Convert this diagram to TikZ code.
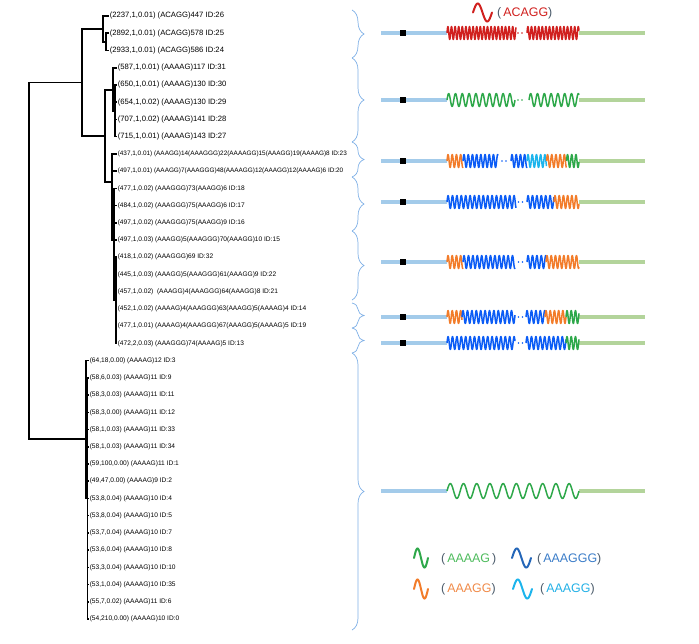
\documentclass[tikz,border=0pt]{standalone}
\usepackage{fontspec}
\setmainfont{Liberation Sans}
\usetikzlibrary{decorations.pathreplacing}
\definecolor{bracecol}{HTML}{7FB0E6}
\definecolor{barblue}{HTML}{A3CBEA}
\definecolor{bargreen}{HTML}{B3D49B}
\definecolor{wred}{HTML}{D0201E}
\definecolor{wgreen}{HTML}{2EA84A}
\definecolor{wblue}{HTML}{0B5CF5}
\definecolor{lblue}{HTML}{2466B8}
\definecolor{worange}{HTML}{F27C2A}
\definecolor{wcyan}{HTML}{1CB4EC}
\definecolor{paren}{HTML}{4A5A6A}
\definecolor{tgreen}{HTML}{4DBB5C}
\definecolor{tblue}{HTML}{3A7CC8}
\definecolor{torange}{HTML}{F08A48}
\definecolor{tcyan}{HTML}{22B0E6}
\newcommand{\mywave}[6]{%
  \pgfmathsetmacro{\mywn}{(#3-#2)/#5}%
  \pgfmathtruncatemacro{\mysm}{\mywn*14+2}%
  \draw[#1,wavestyle] plot[domain=0:\mywn,samples=\mysm] ({#2+\x*#5},{#4-#6*sin(\x*360)});%
}
\newcommand{\mydots}[3]{%
  \fill[#1] (#2,#3) circle (0.9pt);
  \fill[#1] (#2+4,#3) circle (0.9pt);
}
\begin{document}
\begin{tikzpicture}[x=1pt,y=-1pt,
  lab/.style={anchor=west,inner sep=0.6pt,font=\fontsize{6.6}{7}\selectfont},
  biglab/.style={lab,font=\fontsize{7.7}{8}\selectfont},
  longlab/.style={lab,font=\fontsize{6.4}{7}\selectfont},
  tree/.style={line width=1.6pt},
  bracestyle/.style={bracecol,line width=0.7pt,decorate,decoration={brace,amplitude=12pt}},
  barb/.style={barblue,line width=4.5pt},
  barg/.style={bargreen,line width=4.5pt},
  wavestyle/.style={line width=1.5pt,line join=round},
  lwave/.style={line width=2pt,line cap=round},
  sq/.style={fill=black,minimum size=6pt,inner sep=0pt},
  legtext/.style={anchor=west,inner sep=0pt,font=\fontsize{12.4}{14}\selectfont}]
\useasboundingbox (0,0) rectangle (699,643);

% ---- leaf labels ----
\node[biglab] (L26) at (109,16.0) {(2237,1,0.01) (ACAGG)447 ID:26};
\node[biglab] (L25) at (109,33.2) {(2892,1,0.01) (ACAGG)578 ID:25};
\node[biglab] (L24) at (109,50.5) {(2933,1,0.01) (ACAGG)586 ID:24};
\node[biglab] (L31) at (117,67.7) {(587,1,0.01) (AAAAG)117 ID:31};
\node[biglab] (L30) at (117,84.9) {(650,1,0.01) (AAAAG)130 ID:30};
\node[biglab] (L29) at (117,102.2) {(654,1,0.02) (AAAAG)130 ID:29};
\node[biglab] (L28) at (117,119.4) {(707,1,0.02) (AAAAG)141 ID:28};
\node[biglab] (L27) at (117,136.6) {(715,1,0.01) (AAAAG)143 ID:27};
\node[longlab] (L23) at (117,153.8) {(437,1,0.01) (AAAGG)14(AAAGGG)22(AAAAGG)15(AAAGG)19(AAAAG)8 ID:23};
\node[longlab] (L20) at (117,171.1) {(497,1,0.01) (AAAGG)7(AAAGGG)48(AAAAGG)12(AAAGG)12(AAAAG)6 ID:20};
\node[lab] (L18) at (117,188.3) {(477,1,0.02) (AAAGGG)73(AAAGG)6 ID:18};
\node[lab] (L17) at (117,205.5) {(484,1,0.02) (AAAGGG)75(AAAGG)6 ID:17};
\node[lab] (L16) at (117,222.8) {(497,1,0.02) (AAAGGG)75(AAAGG)9 ID:16};
\node[lab] (L15) at (117,240.0) {(497,1,0.03) (AAAGG)5(AAAGGG)70(AAAGG)10 ID:15};
\node[lab] (L32) at (117,257.2) {(418,1,0.02) (AAAGGG)69 ID:32};
\node[lab] (L22) at (117,274.4) {(445,1,0.03) (AAAGG)5(AAAGGG)61(AAAGG)9 ID:22};
\node[lab] (L21) at (117,291.7) {(457,1,0.02)\ \ (AAAGG)4(AAAGGG)64(AAAGG)8 ID:21};
\node[lab] (L14) at (117,308.9) {(452,1,0.02) (AAAAG)4(AAAGGG)63(AAAGG)5(AAAAG)4 ID:14};
\node[lab] (L19) at (117,326.1) {(477,1,0.01) (AAAAG)4(AAAGGG)67(AAAGG)5(AAAAG)5 ID:19};
\node[lab] (L13) at (117,343.4) {(472,2,0.03) (AAAGGG)74(AAAAG)5 ID:13};
\node[lab] (L3) at (89,360.6) {(64,18,0.00) (AAAAG)12 ID:3};
\node[lab] (L9) at (89,377.8) {(58,6,0.03) (AAAAG)11 ID:9};
\node[lab] (L11) at (89,395.0) {(58,3,0.03) (AAAAG)11 ID:11};
\node[lab] (L12) at (89,412.3) {(58,3,0.00) (AAAAG)11 ID:12};
\node[lab] (L33) at (89,429.5) {(58,1,0.03) (AAAAG)11 ID:33};
\node[lab] (L34) at (89,446.7) {(58,1,0.03) (AAAAG)11 ID:34};
\node[lab] (L1) at (89,464.0) {(59,100,0.00) (AAAAG)11 ID:1};
\node[lab] (L2) at (89,481.2) {(49,47,0.00) (AAAAG)9 ID:2};
\node[lab] (L4) at (89,498.4) {(53,8,0.04) (AAAAG)10 ID:4};
\node[lab] (L5) at (89,515.6) {(53,8,0.04) (AAAAG)10 ID:5};
\node[lab] (L7) at (89,532.9) {(53,7,0.04) (AAAAG)10 ID:7};
\node[lab] (L8) at (89,550.1) {(53,6,0.04) (AAAAG)10 ID:8};
\node[lab] (L10) at (89,567.3) {(53,3,0.04) (AAAAG)10 ID:10};
\node[lab] (L35) at (89,584.6) {(53,1,0.04) (AAAAG)10 ID:35};
\node[lab] (L6) at (89,601.8) {(55,7,0.02) (AAAAG)11 ID:6};
\node[lab] (L0) at (89,619.0) {(54,210,0.00) (AAAAG)10 ID:0};

% ---- internal nodes ----
\coordinate (R) at (29,260);
\coordinate (A) at (82,82.5);
\coordinate (B) at (103,29);
\coordinate (B2) at (106,41.8);
\coordinate (C) at (105,136);
\coordinate (D) at (113,90);
\coordinate (D2) at (115,111);
\coordinate (E) at (112,182);
\coordinate (E2) at (114,240);
\coordinate (E3) at (116,300);
\coordinate (F) at (86,439);
\coordinate (F2) at (87.5,498);

% ---- tree edges ----
\draw[tree] (R) |- (A);
\draw[tree] (R) |- (F);
\draw[tree] (A) |- (B);
\draw[tree] (A) |- (C);
\draw[tree] (B) |- (L26.west);
\draw[tree] (B) |- (B2);
\draw[tree] (B2) |- (L25.west);
\draw[tree] (B2) |- (L24.west);
\draw[tree] (C) |- (D);
\draw[tree] (C) |- (E);
\draw[tree] (D) |- (L31.west);
\draw[tree] (D) |- (D2);
\foreach \l in {L30,L29,L28,L27} \draw[tree] (D2) |- (\l.west);
\draw[tree] (E) |- (L23.west);
\draw[tree] (E) |- (L20.west);
\draw[tree] (E) |- (E2);
\foreach \l in {L18,L17,L16,L15} \draw[tree] (E2) |- (\l.west);
\draw[tree] (E2) |- (E3);
\foreach \l in {L32,L22,L21,L14,L19,L13} \draw[tree] (E3) |- (\l.west);
\draw[tree] (F) |- (L3.west);
\draw[tree] (F) |- (F2);
\foreach \l in {L9,L11,L12,L33,L34,L1,L2,L4,L5,L7,L8,L10,L35,L6,L0} \draw[tree] (F2) |- (\l.west);

% ---- braces ----
\draw[bracestyle] (352,10) -- (352,58);
\draw[bracestyle] (352,58) -- (352,142);
\draw[bracestyle] (352,142) -- (352,177);
\draw[bracestyle] (352,177) -- (352,231);
\draw[bracestyle] (352,231) -- (352,300);
\draw[bracestyle] (352,303) -- (352,328);
\draw[bracestyle] (352,328) -- (352,353);
\draw[bracestyle] (352,353) -- (352,630);

% ---- rows: bars ----
\foreach \yy in {33,100,161,202,262,317,343} {
  \draw[barb] (381,\yy) -- (447,\yy);
  \draw[barg] (579,\yy) -- (645,\yy);
  \node[sq] at (403,\yy) {};
}
\draw[barb] (381,491) -- (447,491);
\draw[barg] (579,491) -- (645,491);

% row 1
\mywave{wred}{447}{516}{33}{3.6}{6.5}
\mydots{wred}{518}{33}
\mywave{wred}{527}{579}{33}{3.6}{6.5}
% row 2
\mywave{wgreen}{447}{515}{100}{6.8}{6.5}
\mydots{wgreen}{518}{100}
\mywave{wgreen}{529}{579}{100}{6.8}{6.5}
% row 3
\mywave{worange}{447}{463}{161}{4.2}{6.5}
\mywave{wblue}{463}{498}{161}{4.2}{6.5}
\mydots{wblue}{502}{161}
\mywave{wblue}{511}{527}{161}{4.2}{6.5}
\mywave{wcyan}{527}{546.5}{161}{4.2}{6.5}
\mywave{worange}{546.5}{566.5}{161}{4.2}{6.5}
\mywave{wgreen}{566.5}{579}{161}{4.2}{6.5}
% row 4
\mywave{wblue}{447}{516}{202}{4.4}{6.5}
\mydots{wblue}{518.5}{202}
\mywave{wblue}{527}{554}{202}{4.4}{6.5}
\mywave{worange}{554}{579}{202}{4.2}{6.5}
% row 5
\mywave{worange}{447}{463}{262}{4.2}{6.5}
\mywave{wblue}{463}{515}{262}{4.4}{6.5}
\mydots{wblue}{518.5}{262}
\mywave{wblue}{527}{546}{262}{4.4}{6.5}
\mywave{worange}{546}{579}{262}{4.2}{6.5}
% row 6
\mywave{worange}{447}{462}{317}{4.2}{6.5}
\mywave{wblue}{462}{515}{317}{4.4}{6.5}
\mydots{wblue}{518.5}{317}
\mywave{wblue}{526}{545}{317}{4.4}{6.5}
\mywave{worange}{545}{566}{317}{4.2}{6.5}
\mywave{wgreen}{566}{579}{317}{4.2}{6.5}
% row 7
\mywave{wblue}{447}{515}{343}{4.4}{6.5}
\mydots{wblue}{518.5}{343}
\mywave{wblue}{526}{566}{343}{4.4}{6.5}
\mywave{wgreen}{566}{579}{343}{4.2}{6.5}
% row 8
\mywave{wgreen}{447}{579}{491}{13.2}{7.5}

% ---- header ----
\draw[wred,lwave] plot[domain=0:360,samples=40] ({473+19*\x/360},{12.5-9*sin(\x)});
\node[legtext] (hACAGG) at (497,13) {\color{paren}(\,\color{wred}ACAGG\color{paren})};

% ---- legend ----
\draw[wgreen,lwave] plot[domain=0:360,samples=40] ({414+14*\x/360},{558-9.5*sin(\x)});
\node[legtext] (tAAAAG) at (441,559) {\color{paren}(\,\color{tgreen}AAAAG\color{paren}\,)};
\draw[lblue,lwave] plot[domain=0:360,samples=40] ({512+19*\x/360},{558-9.5*sin(\x)});
\node[legtext] (tAAAGGG) at (537,559) {\color{paren}(\,\color{tblue}AAAGGG\color{paren})};
\draw[worange,lwave] plot[domain=0:360,samples=40] ({414+14*\x/360},{589-9.5*sin(\x)});
\node[legtext] (tAAAGG) at (441,589) {\color{paren}(\,\color{torange}AAAGG\color{paren})};
\draw[wcyan,lwave] plot[domain=0:360,samples=40] ({513+19*\x/360},{589-9.5*sin(\x)});
\node[legtext] (tAAAGGc) at (540,589) {\color{paren}(\,\color{tcyan}AAAGG\color{paren})};
\end{tikzpicture}
\end{document}
